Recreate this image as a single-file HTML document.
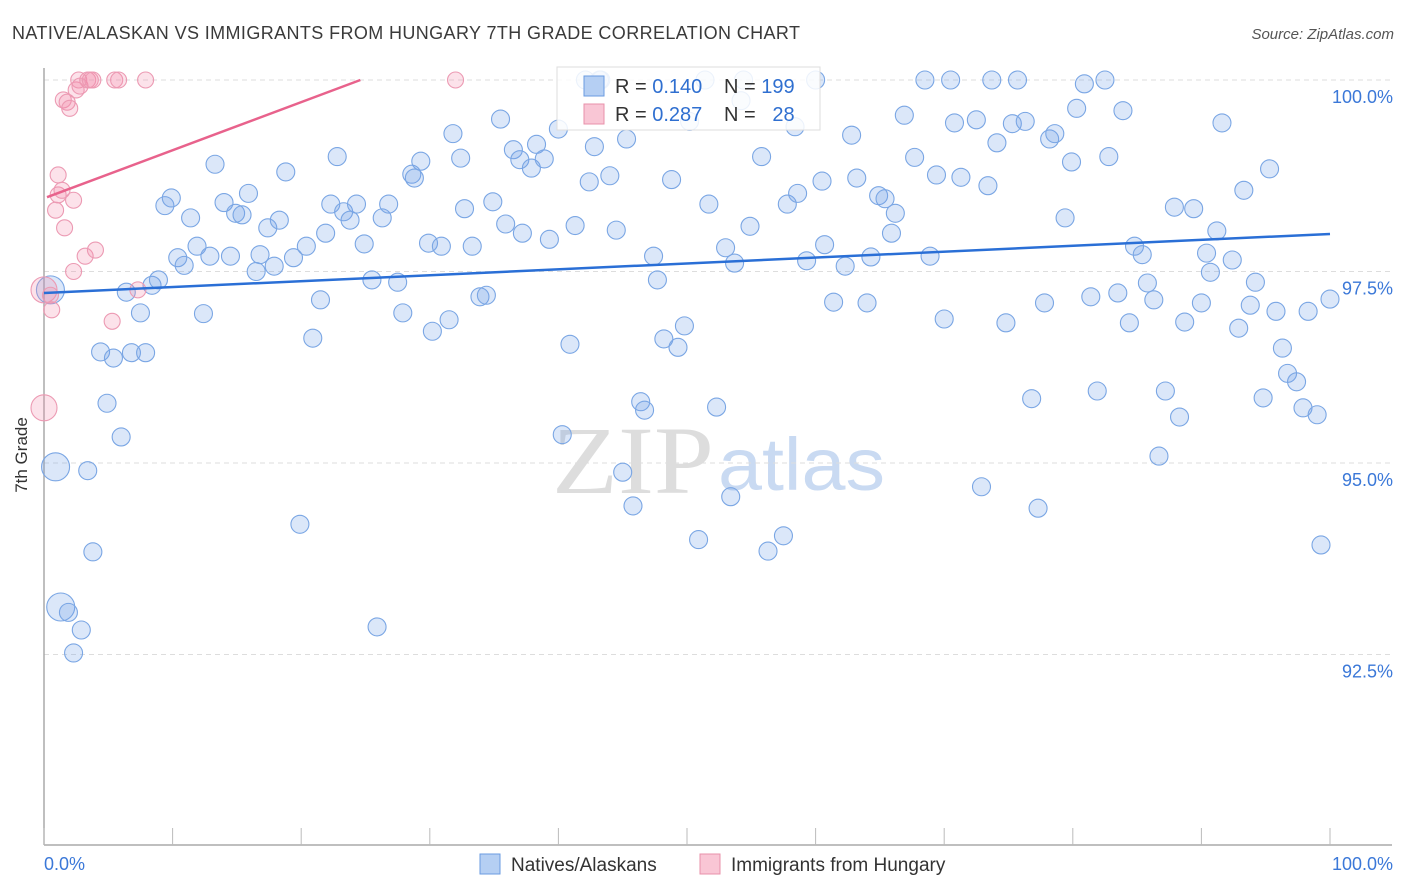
<!DOCTYPE html>
<html><head><meta charset="utf-8"><style>
body{margin:0;background:#fff;font-family:"Liberation Sans",sans-serif}
svg{display:block}
</style></head><body>
<svg id="chart" width="1406" height="892">
<text x="12" y="39" font-size="18" fill="#3a3a3a" textLength="788" lengthAdjust="spacing">NATIVE/ALASKAN VS IMMIGRANTS FROM HUNGARY 7TH GRADE CORRELATION CHART</text>
<text x="1394" y="39" font-size="15" fill="#555" font-style="italic" text-anchor="end">Source: ZipAtlas.com</text>
<text x="27" y="455" font-size="17" fill="#333" transform="rotate(-90 27 455)" text-anchor="middle">7th Grade</text>
<g>
<text x="552" y="493" font-size="96" fill="#ddd" font-family="Liberation Serif,serif" textLength="162" lengthAdjust="spacingAndGlyphs">ZIP</text>
<text x="718" y="490" font-size="74" fill="#c9daf2" textLength="167" lengthAdjust="spacingAndGlyphs">atlas</text>
</g>
<g id="grid"></g>
<g id="axes"></g>
<g id="pts"></g>
<g id="lines"></g>
<g>
<rect x="557" y="67" width="263" height="63" fill="#fff" fill-opacity="0.85" stroke="#ddd"/>
<rect x="584" y="76" width="20" height="20" fill="#b5cff3" stroke="#6a9be0"/>
<rect x="584" y="104" width="20" height="20" fill="#f9c6d5" stroke="#e890aa"/>
<text x="615" y="93" font-size="20" fill="#333">R = <tspan fill="#2f6fd0">0.140</tspan></text>
<text x="724" y="93" font-size="20" fill="#333">N = <tspan fill="#2f6fd0">199</tspan></text>
<text x="615" y="121" font-size="20" fill="#333">R = <tspan fill="#2f6fd0">0.287</tspan></text>
<text x="724" y="121" font-size="20" fill="#333">N = <tspan fill="#2f6fd0">&#160;&#160;28</tspan></text>
</g>
<g>
<rect x="480" y="854" width="20" height="20" fill="#b5cff3" stroke="#6a9be0"/>
<text x="511" y="871" font-size="19" fill="#333">Natives/Alaskans</text>
<rect x="700" y="854" width="20" height="20" fill="#f9c6d5" stroke="#e890aa"/>
<text x="731" y="871" font-size="19" fill="#333">Immigrants from Hungary</text>
</g>
</svg>
<script>
const yTicks=[100,97.5,95,92.5];
const yTickLabels=["100.0%","97.5%","95.0%","92.5%"];
const xTickLabels=["0.0%","100.0%"];
const blueX=[0.5,0.9,1.3,1.9,2.3,2.9,3.4,3.8,4.4,4.9,5.4,6.0,6.4,6.8,7.5,7.9,8.4,8.9,9.4,9.9,10.4,10.9,11.4,11.9,12.4,12.9,13.3,14.0,14.5,14.9,15.4,15.9,16.5,16.8,17.4,17.9,18.3,18.8,19.4,19.9,20.4,20.9,21.5,21.9,22.3,22.8,23.3,23.8,24.3,24.9,25.5,25.9,26.3,26.8,27.5,27.9,28.6,28.8,29.3,29.9,30.2,30.9,31.5,31.8,32.4,32.7,33.3,33.9,34.4,34.9,35.5,35.9,36.5,37.0,37.2,37.9,38.3,38.9,39.3,40.0,40.3,40.9,41.3,42.4,42.8,43.2,44.0,44.5,45.0,45.3,45.8,46.4,46.7,47.4,47.7,48.2,48.8,49.3,49.8,50.2,50.9,51.4,51.7,52.3,53.0,53.4,53.7,54.2,54.9,55.8,56.3,57.5,57.8,58.4,58.6,59.3,60.0,60.5,60.7,61.4,62.3,62.8,63.2,64.0,64.3,64.9,65.4,65.9,66.2,66.9,67.7,68.5,68.9,69.4,70.0,70.5,70.8,71.3,72.5,72.9,73.4,73.7,74.1,74.8,75.3,75.7,76.3,76.8,77.3,77.8,78.2,78.6,79.4,79.9,80.3,80.9,81.4,81.9,82.5,82.8,83.5,83.9,84.4,84.8,85.4,85.8,86.3,86.7,87.2,87.9,88.3,88.7,89.4,90.0,90.4,90.7,91.2,91.6,92.4,92.9,93.3,93.8,94.2,94.8,95.3,95.8,96.3,96.7,97.4,97.9,98.3,99.0,99.3,100,42.1,43.3,54.4];
const blueY=[97.26,94.95,93.12,93.05,92.52,92.82,94.9,93.84,96.45,95.78,96.37,95.34,97.23,96.44,96.96,96.44,97.32,97.39,98.36,98.46,97.68,97.58,98.2,97.83,96.95,97.7,98.9,98.4,97.7,98.26,98.24,98.52,97.5,97.72,98.07,97.57,98.17,98.8,97.68,94.2,97.83,96.63,97.13,98.0,98.38,99.0,98.28,98.17,98.38,97.86,97.39,92.86,98.2,98.38,97.36,96.96,98.77,98.72,98.94,97.87,96.72,97.83,96.87,99.3,98.98,98.32,97.83,97.17,97.19,98.41,99.49,98.12,99.09,98.96,98.0,98.85,99.16,98.97,97.92,99.36,95.37,96.55,98.1,98.67,99.13,100,98.75,98.04,94.88,99.23,94.44,95.8,95.69,97.7,97.39,96.62,98.7,96.51,96.79,99.46,94.0,100,98.38,95.73,97.81,94.56,97.61,99.73,98.09,99.0,93.85,94.05,98.38,99.39,98.52,97.64,100,98.68,97.85,97.1,97.57,99.28,98.72,97.09,97.69,98.49,98.45,98.0,98.26,99.54,98.99,100,97.7,98.76,96.88,100,99.44,98.73,99.48,94.69,98.62,100,99.18,96.83,99.43,100,99.46,95.84,94.41,97.09,99.23,99.3,98.2,98.93,99.63,99.95,97.17,95.94,100,99.0,97.22,99.6,96.83,97.83,97.72,97.35,97.13,95.09,95.94,98.34,95.6,96.84,98.32,97.09,97.74,97.49,98.03,99.44,97.65,96.76,98.56,97.06,97.36,95.85,98.84,96.98,96.5,96.17,96.06,95.72,96.98,95.63,93.93,97.14,100,100,100];
const blueBig=[0,1,2];
const pinkX=[0,0,0.5,0.6,0.9,1.1,1.1,1.4,1.5,1.8,2.0,1.6,2.3,2.3,2.5,2.7,2.8,3.2,3.4,3.6,4.0,3.8,5.3,5.5,7.3,7.9,32.0,5.8];
const pinkY=[97.26,95.72,97.19,97.0,98.3,98.5,98.76,98.56,99.74,99.71,99.63,98.07,98.43,97.5,99.87,100,99.92,97.7,100,100,97.78,100,96.85,100,97.26,100,100,100];
const pinkBig=[0,1];
const blueTrend=[[0,97.22],[100,97.99]];
const pinkTrend=[[0,98.47],[24.6,100]];

const X0=44,X1=1330,Y100=80,PER=76.6;
const sx=v=>X0+(X1-X0)*v/100;
const sy=v=>Y100+(100-v)*PER;
const NS="http://www.w3.org/2000/svg";
function mk(tag,attrs,parent){const e=document.createElementNS(NS,tag);for(const k in attrs)e.setAttribute(k,attrs[k]);parent.appendChild(e);return e;}
const grid=document.getElementById('grid'),axes=document.getElementById('axes'),pts=document.getElementById('pts'),lines=document.getElementById('lines');
yTicks.forEach((t,i)=>{
  const l=mk('line',{x1:X0,x2:1392,y1:sy(t),y2:sy(t),stroke:'#ddd','stroke-dasharray':'5,4'},grid);
  
  
  const tx=mk('text',{x:1393,y:sy(t)+23,'font-size':18,fill:'#3b78d8','text-anchor':'end'},grid);
  tx.textContent=yTickLabels[i];
  
  
});
let a=mk('line',{x1:X0,x2:X0,y1:68,y2:845,stroke:'#aaa','stroke-width':1.5},axes);


a=mk('line',{x1:X0,x2:1392,y1:845,y2:845,stroke:'#aaa','stroke-width':1.5},axes);


for(let k=0;k<=10;k++){
  const t=mk('line',{x1:sx(k*10),x2:sx(k*10),y1:828,y2:845,stroke:'#bbb'},axes);
  
  
}
let xl=mk('text',{x:44,y:870,'font-size':18,fill:'#3b78d8'},axes);xl.textContent=xTickLabels[0];


xl=mk('text',{x:1393,y:870,'font-size':18,fill:'#3b78d8','text-anchor':'end'},axes);xl.textContent=xTickLabels[1];


blueX.forEach((v,i)=>{
  const c=mk('circle',{cx:sx(v),cy:sy(blueY[i]),r:blueBig.includes(i)?14:9,fill:'rgba(110,160,230,0.25)',stroke:'#7aa6e4','stroke-width':1.1},pts);
  
  
});
pinkX.forEach((v,i)=>{
  const c=mk('circle',{cx:sx(v),cy:sy(pinkY[i]),r:pinkBig.includes(i)?13:8,fill:'rgba(245,140,170,0.25)',stroke:'#ec9ab3','stroke-width':1.1},pts);
  
  
});
let tl=mk('line',{x1:sx(blueTrend[0][0]),y1:sy(blueTrend[0][1]),x2:sx(blueTrend[1][0]),y2:sy(blueTrend[1][1]),stroke:'#2a6fd6','stroke-width':2.5},lines);


tl=mk('line',{x1:sx(pinkTrend[0][0])+3,y1:sy(pinkTrend[0][1]),x2:sx(pinkTrend[1][0]),y2:sy(pinkTrend[1][1]),stroke:'#e8628c','stroke-width':2.5},lines);


</script>
</body></html>
